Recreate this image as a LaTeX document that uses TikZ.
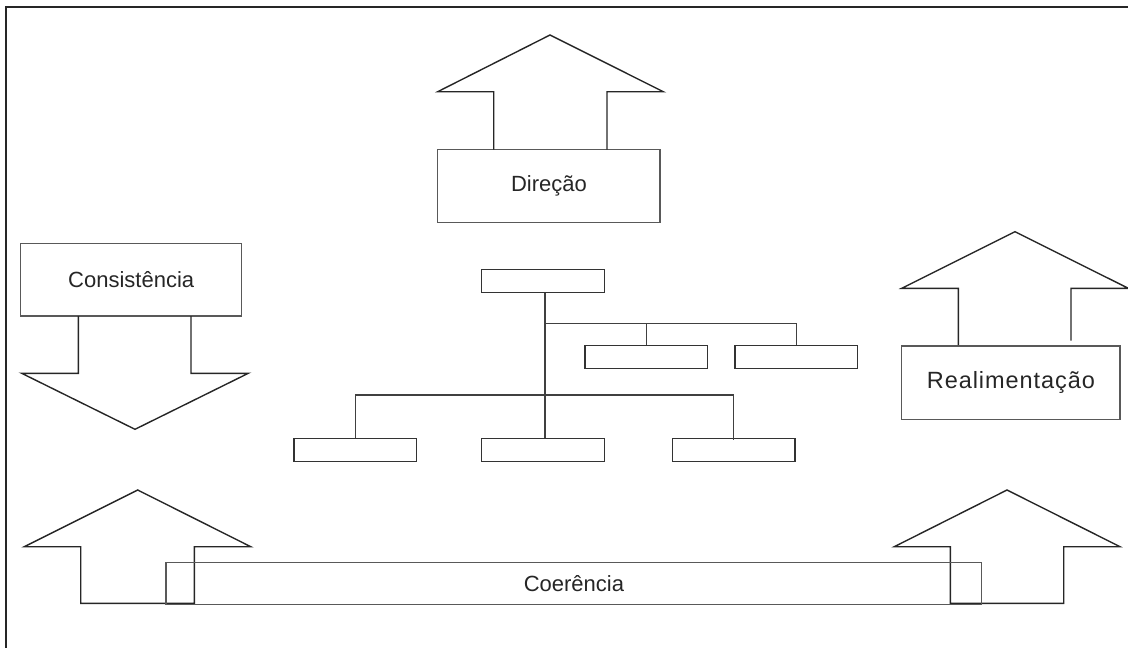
\documentclass[tikz,border=0pt]{standalone}
\usepackage{fontspec}
\setmainfont{Liberation Sans}
\usetikzlibrary{calc}
\begin{document}
\begin{tikzpicture}[x=1pt,y=-1pt,
  frameline/.style={line width=2pt,draw=black!85},
  bigarrow/.style={line width=1.4pt,draw=black!85,line join=miter},
  labelbox/.style={draw=black!65,line width=1.4pt,inner sep=0pt,
    font=\fontsize{22}{26}\selectfont,text=black!85},
  orgbox/.style={draw=black!80,line width=1.4pt,inner sep=0pt,
    minimum width=122.6pt,minimum height=23pt},
  orgline/.style={draw=black!75,line width=1.4pt}]
\useasboundingbox (0,0) rectangle (1128,648);

% outer frame (left and top edges)
\draw[frameline] (6,648) -- (6,6.5) -- (1128,6.5);

% --- Direcao: box with upward arrow ---
\node[labelbox,minimum width=222.3pt,minimum height=73pt] (dir) at (548.9,186.2) {Direção};
\draw[bigarrow] (493.7,149.7) -- (493.7,91.7) -- (437.7,91.7) -- (550,35)
  -- (663.3,91.7) -- (607,91.7) -- (607,149.7);

% --- Consistencia: box with downward arrow ---
\node[labelbox,minimum width=221pt,minimum height=72.7pt] (cons) at (131.2,279.7) {Consistência};
\draw[bigarrow] (78.3,316) -- (78.3,373.3) -- (21.7,373.3) -- (135,429.3)
  -- (248.3,373.3) -- (191,373.3) -- (191,316);

% --- Realimentacao: box with upward arrow ---
\node[labelbox,minimum width=218.3pt,minimum height=73.3pt] (real) at (1010.9,382.7)
  {\fontsize{23.5}{27}\selectfont\addfontfeature{LetterSpace=4}Realimentação};
\draw[bigarrow] (958.3,345) -- (958.3,288.3) -- (901.7,288.3) -- (1015,231.7)
  -- (1128.3,288.3) -- (1071,288.3) -- (1071,340.7);

% --- Coerencia: two closed upward arrows joined by a long box ---
\draw[bigarrow] (80.7,603.3) -- (80.7,546.7) -- (24.3,546.7) -- (137.7,490)
  -- (250.7,546.7) -- (194.3,546.7) -- (194.3,603.3) -- cycle;
\draw[bigarrow] (950.3,603.3) -- (950.3,546.7) -- (894.3,546.7) -- (1007,490)
  -- (1120,546.7) -- (1063.7,546.7) -- (1063.7,603.3) -- cycle;
\node[labelbox,minimum width=815.7pt,minimum height=42pt] (coer) at (573.9,583.3) {Coerência};

% --- organisation chart ---
\node[orgbox] (top) at (543,280.8) {};
\node[orgbox] (ml) at (646.3,357.2) {};
\node[orgbox] (mr) at (796.3,357.2) {};
\node[orgbox] (bl) at (355.3,450) {};
\node[orgbox] (bm) at (543,450) {};
\node[orgbox] (br) at (733.7,450) {};

\coordinate (upbar) at (545,323.3);
\coordinate (lobar) at (355,395);

\draw[orgline] (top.south -| upbar) -- (bm.north -| upbar);
\draw[orgline] (upbar) -| (mr.north);
\draw[orgline] (ml.north) -- (ml.north |- upbar);
\draw[orgline] (bl.north) |- (br.north |- lobar) -- ([yshift=-2.3pt]br.north);
\end{tikzpicture}
\end{document}
